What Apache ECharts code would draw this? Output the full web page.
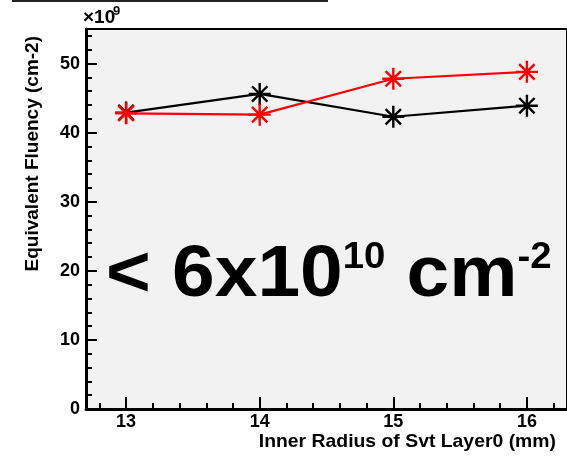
<!DOCTYPE html>
<html>
<head>
<meta charset="utf-8">
<script src="https://cdn.jsdelivr.net/npm/echarts@6/dist/echarts.min.js"></script>
<style>
  html, body { margin: 0; padding: 0; background: #ffffff; }
  #chart { width: 567px; height: 458px; }
</style>
</head>
<body>
<div id="chart"></div>
<script>
// Inner radius of the SVT layer 0 (mm)
const radii = [13, 14, 15, 16];
// Equivalent fluency in units of 1e9 cm^-2
const fluencyBlack = [42.9, 45.6, 42.3, 43.9];
const fluencyRed = [42.8, 42.6, 47.8, 48.8];

// Axis ticks
const xMajorTicks = [13, 14, 15, 16];
const xMinorTicks = [12.8, 13.2, 13.4, 13.6, 13.8, 14.2, 14.4, 14.6, 14.8,
                     15.2, 15.4, 15.6, 15.8, 16.2];
const yMajorTicks = [0, 10, 20, 30, 40, 50];
const yMinorTicks = [2, 4, 6, 8, 12, 14, 16, 18, 22, 24, 26, 28,
                     32, 34, 36, 38, 42, 44, 46, 48, 52, 54];

const FONT = '"Liberation Sans", Arial, Helvetica, sans-serif';
const STAR = 'path://M10,0L10,20M0,10L20,10M3,3L17,17M3,17L17,3';

function pairs(xs, ys) { return xs.map((x, i) => [x, ys[i]]); }

function lineSeries(name, color, values) {
  return {
    name: name,
    type: 'line',
    xAxisIndex: 0,
    yAxisIndex: 0,
    data: pairs(radii, values),
    symbol: STAR,
    symbolSize: 22,
    showAllSymbol: true,
    lineStyle: { color: color, width: 2.2 },
    itemStyle: { color: color, borderColor: color, borderWidth: 2.4 },
    emphasis: { disabled: true },
    animation: false
  };
}

const chart = echarts.init(document.getElementById('chart'));
chart.setOption({
  animation: false,
  grid: {
    left: 86, top: 29, width: 488, height: 380,
    show: true,
    backgroundColor: '#f2f2f2',
    borderColor: '#000000',
    borderWidth: 2
  },
  xAxis: [
    {
      type: 'value', min: 12.7, max: 16.3, position: 'bottom',
      axisLine: { show: true, lineStyle: { color: '#000', width: 3 } },
      axisTick: { show: true, inside: true, length: 12, customValues: xMajorTicks,
                  lineStyle: { color: '#000', width: 2 } },
      axisLabel: { show: true, customValues: xMajorTicks, margin: 4,
                   fontFamily: FONT, fontWeight: 'bold', fontSize: 18, color: '#000' },
      splitLine: { show: false }
    },
    {
      type: 'value', min: 12.7, max: 16.3, position: 'bottom', offset: 0,
      axisLine: { show: false },
      axisTick: { show: true, inside: true, length: 6, customValues: xMinorTicks,
                  lineStyle: { color: '#000', width: 2 } },
      axisLabel: { show: false },
      splitLine: { show: false }
    }
  ],
  yAxis: [
    {
      type: 'value', min: 0, max: 55, position: 'left',
      axisLine: { show: true, lineStyle: { color: '#000', width: 3 } },
      axisTick: { show: true, inside: true, length: 11, customValues: yMajorTicks,
                  lineStyle: { color: '#000', width: 2 } },
      axisLabel: { show: true, customValues: yMajorTicks, margin: 6,
                   fontFamily: FONT, fontWeight: 'bold', fontSize: 18, color: '#000' },
      splitLine: { show: false }
    },
    {
      type: 'value', min: 0, max: 55, position: 'left', offset: 0,
      axisLine: { show: false },
      axisTick: { show: true, inside: true, length: 6, customValues: yMinorTicks,
                  lineStyle: { color: '#000', width: 2 } },
      axisLabel: { show: false },
      splitLine: { show: false }
    }
  ],
  series: [
    lineSeries('black', '#000000', fluencyBlack),
    lineSeries('red', '#ff0000', fluencyRed)
  ],
  graphic: [
    {
      type: 'line', silent: true,
      shape: { x1: 12, y1: 1, x2: 328, y2: 1 },
      style: { stroke: '#222', lineWidth: 2 }
    },
    {
      type: 'text', silent: true, x: 83, y: 27,
      style: {
        text: '\u00d710',
        fontFamily: FONT, fontWeight: 'bold', fontSize: 19, fill: '#000',
        align: 'left', verticalAlign: 'bottom'
      }
    },
    {
      type: 'text', silent: true, x: 113, y: 5,
      style: {
        text: '9',
        fontFamily: FONT, fontWeight: 'bold', fontSize: 13, fill: '#000',
        align: 'left', verticalAlign: 'top'
      }
    },
    {
      type: 'text', silent: true, x: 33, y: 36, rotation: Math.PI / 2,
      style: {
        text: 'Equivalent Fluency (cm-2)',
        fontFamily: FONT, fontWeight: 'bold', fontSize: 19, fill: '#000',
        align: 'right', verticalAlign: 'middle'
      }
    },
    {
      type: 'text', silent: true, x: 556, y: 442, scaleX: 1.02,
      style: {
        text: 'Inner Radius of Svt Layer0 (mm)',
        fontFamily: FONT, fontWeight: 'bold', fontSize: 19, fill: '#000',
        align: 'right', verticalAlign: 'middle'
      }
    },
    {
      type: 'text', silent: true, x: 106, y: 240, scaleX: 1.065,
      style: {
        text: '{b|< 6x10}{s|10}{b| cm}{s|-2}',
        rich: {
          b: { fontFamily: FONT, fontWeight: 'bold', fontSize: 72, fill: '#000', verticalAlign: 'bottom', lineHeight: 72 },
          s: { fontFamily: FONT, fontWeight: 'bold', fontSize: 36, fill: '#000', verticalAlign: 'top', lineHeight: 72 }
        }
      }
    }
  ]
});
</script>
</body>
</html>
